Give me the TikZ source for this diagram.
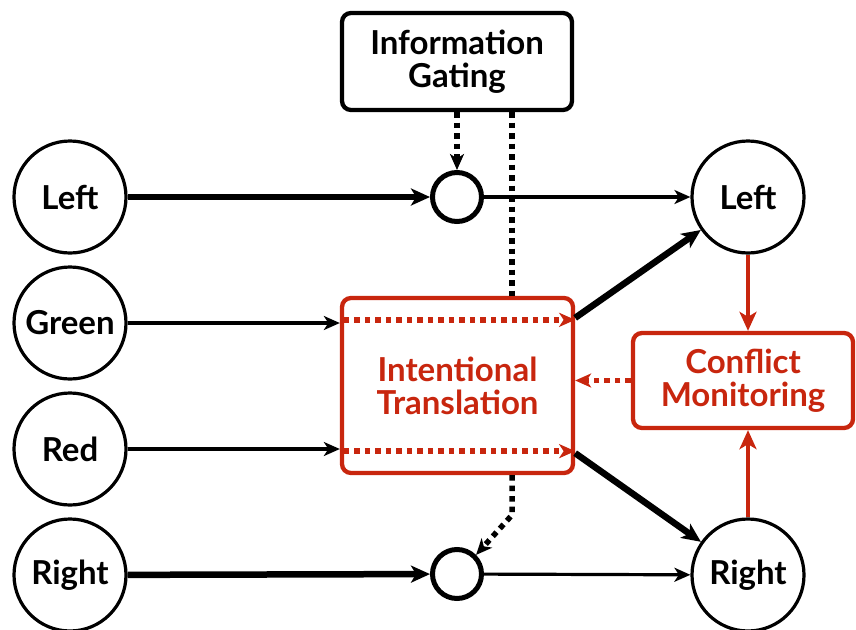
\documentclass[tikz,border=0pt]{standalone}
\usepackage{fontspec}
\setmainfont{Lato}
\usetikzlibrary{arrows.meta,calc}
\definecolor{cred}{RGB}{200,38,14}
\begin{document}
\begin{tikzpicture}[x=1pt,y=-1pt,
  font=\bfseries\fontsize{33}{33}\selectfont,
  incirc/.style={circle,draw,line width=3.2pt,minimum size=112pt,inner sep=0pt},
  gatecirc/.style={circle,draw,line width=5pt,minimum size=49pt,inner sep=0pt},
  bbox/.style={draw,rounded corners=9pt,line width=4.3pt,align=center,inner sep=0pt},
  rbox/.style={draw=cred,text=cred,rounded corners=9pt,line width=4.3pt,align=center,inner sep=0pt,fill=white},
  tip/.style={-{Stealth[length=19pt,width=17pt,inset=5pt]}},
  stip/.style={-{Stealth[length=16pt,width=14pt,inset=4.5pt]}},
  thickline/.style={line width=6.5pt},
  thinline/.style={line width=3.2pt},
  dots/.style={line width=5.5pt,dash pattern=on 5.5pt off 5pt},
]
\useasboundingbox (0,0) rectangle (856,629);
% nodes
\node[incirc] (inL) at (70,197) {Left};
\node[incirc] (inG) at (70,323) {Green};
\node[incirc] (inR) at (70,449) {Red};
\node[incirc] (inRt) at (70,575) {Right};
\node[incirc] (outL) at (748,197) {Left};
\node[incirc] (outR) at (748,575) {Right};
\node[gatecirc] (gL) at (457,197) {};
\node[gatecirc] (gR) at (457,574) {};
\node[bbox,minimum width=230pt,minimum height=97pt] (ig) at (457,61.5) {Information\\Gating};
\node[rbox,minimum width=231pt,minimum height=175pt] (it) at (457.5,385.5) {Intentional\\Translation};
\node[rbox,minimum width=220pt,minimum height=95pt] (cm) at (743,380.5) {Conflict\\Monitoring};
% coordinates
\coordinate (itTop) at ($(it.north west)+(0,24)$);
\coordinate (itBot) at ($(it.south west)+(0,-24)$);
\coordinate (itTR) at ($(it.north east)+(0,22)$);
\coordinate (itBR) at ($(it.south east)+(0,-22)$);
\coordinate (bend) at (512,515);
% black arrows
\draw[thickline,tip] (inL) -- (gL);
\draw[thinline,stip] (gL) -- (outL);
\draw[thickline,tip] (inRt) -- (gR);
\draw[thinline,stip] (gR) -- (outR);
\draw[thinline,stip] (inG.east) -- (it.west |- inG.east);
\draw[thinline,stip] (inR.east) -- (it.west |- inR.east);
\draw[thickline,tip] (itTR) -- (outL);
\draw[thickline,tip] (itBR) -- (outR);
% gating dotted
\draw[dots,stip] (ig.south -| gL) -- (gL.north);
\draw[dots] (ig.south -| bend) -- (it.north -| bend);
\draw[dots,stip] (it.south -| bend) -- (bend) -- (gR.45);
% red arrows
\draw[cred,dots,stip] ($(itTop)+(4,0)$) -- (itTop -| it.east);
\draw[cred,dots,stip] ($(itBot)+(4,0)$) -- (itBot -| it.east);
\draw[cred,line width=4.3pt,tip] (outL.south) -- (cm.north -| outL.south);
\draw[cred,line width=4.3pt,tip] (outR.north) -- (cm.south -| outR.north);
\draw[cred,dots,stip] (cm.west) -- (it.east |- cm.west);
\end{tikzpicture}
\end{document}
